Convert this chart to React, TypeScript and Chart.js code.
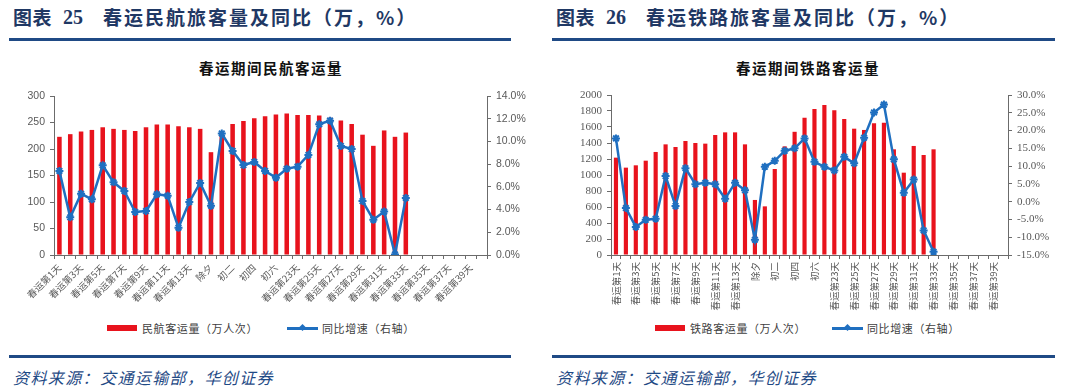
import React, { useEffect, useRef } from 'react';
import { Chart, registerables } from 'chart.js';

Chart.register(...registerables);

const categories = [
  '春运第1天', '春运第2天', '春运第3天', '春运第4天', '春运第5天', '春运第6天', '春运第7天', '春运第8天',
  '春运第9天', '春运第10天', '春运第11天', '春运第12天', '春运第13天', '春运第14天', '除夕', '初一',
  '初二', '初三', '初四', '初五', '初六', '初七', '春运第23天', '春运第24天', '春运第25天', '春运第26天',
  '春运第27天', '春运第28天', '春运第29天', '春运第30天', '春运第31天', '春运第32天', '春运第33天',
  '春运第34天', '春运第35天', '春运第36天', '春运第37天', '春运第38天', '春运第39天', '春运第40天',
];

const airVolume = [223, 228, 233, 236, 241, 238, 236, 234, 241, 246, 246, 243, 241, 238, 194, 229, 247, 253, 258, 262, 265, 267, 264, 264, 263, 259, 254, 247, 227, 206, 235, 223, 231];
const airYoY = [7.4, 3.32, 5.4, 4.9, 7.9, 6.4, 5.64, 3.79, 3.87, 5.34, 5.22, 2.41, 4.67, 6.34, 4.34, 10.7, 9.16, 7.92, 8.19, 7.4, 6.81, 7.6, 7.78, 8.81, 11.51, 11.83, 9.6, 9.33, 4.75, 3.11, 3.82, 0.05, 5.02];

const railVolume = [1217, 1092, 1121, 1179, 1288, 1383, 1350, 1425, 1400, 1392, 1500, 1533, 1533, 1383, 688, 608, 1075, 1358, 1540, 1717, 1825, 1875, 1808, 1700, 1579, 1563, 1646, 1654, 1321, 1029, 1363, 1250, 1321];
const railYoY = [17.8, -1.8, -7.1, -5.1, -4.8, 7.2, -1.2, 9.4, 4.9, 5.3, 4.9, 0.8, 5.3, 3.2, -10.7, 9.8, 11.5, 14.3, 15.0, 17.8, 11.2, 9.8, 8.8, 12.6, 10.8, 18.0, 25.1, 27.3, 11.9, 2.5, 6.2, -8.1, -14.1];

const airVolumeAxis = [0, 300, 50];
const airYoYAxis = [0, 14, 2];
const railVolumeAxis = [0, 2000, 200];
const railYoYAxis = [-15, 30, 5];

const RED = '#E8131D';
const BLUE = '#1F6FC0';
const NAVY = '#1F3864';
const AXIS = '#6b6b6b';
const TICK = '#595959';
const CJK = '"Noto Sans CJK SC", "Noto Sans", sans-serif';

type ChartSpec = {
  volume: number[];
  yoy: number[];
  volumeLabel: string;
  leftAxis: number[];
  rightAxis: number[];
  rotation: number;
  leftW: number;
  rightW: number;
  topPad: number;
  xHeight: number;
  numFont: string;
  numSize: number;
};

function buildConfig(s: ChartSpec): any {
  return {
    type: 'bar',
    data: {
      labels: categories,
      datasets: [
        {
          type: 'line',
          label: '同比增速（右轴）',
          data: s.yoy,
          yAxisID: 'y1',
          borderColor: BLUE,
          backgroundColor: BLUE,
          borderWidth: 2.5,
          pointStyle: 'star',
          pointRadius: 4,
          pointBorderWidth: 2,
          pointBackgroundColor: BLUE,
          pointBorderColor: BLUE,
          tension: 0,
          order: 0,
        },
        {
          type: 'bar',
          label: s.volumeLabel,
          data: s.volume,
          yAxisID: 'y',
          backgroundColor: RED,
          barPercentage: 0.42,
          categoryPercentage: 1,
          order: 1,
        },
      ],
    },
    options: {
      responsive: false,
      maintainAspectRatio: false,
      animation: false,
      layout: { padding: { top: s.topPad, left: 0, right: 0, bottom: 0 } },
      plugins: { legend: { display: false }, tooltip: { enabled: false }, title: { display: false } },
      scales: {
        x: {
          type: 'category',
          offset: true,
          grid: { offset: true, drawOnChartArea: false, drawTicks: true, tickLength: 4, color: AXIS },
          border: { color: AXIS, width: 1 },
          ticks: {
            autoSkip: false,
            minRotation: s.rotation,
            maxRotation: s.rotation,
            padding: 3,
            color: TICK,
            font: { family: CJK, size: 9.5 },
            callback: (_v: any, i: number) => (i % 2 === 0 ? categories[i] : ''),
          },
          afterFit: (sc: any) => { sc.height = s.xHeight; },
        },
        y: {
          position: 'left',
          min: s.leftAxis[0],
          max: s.leftAxis[1],
          grid: { drawOnChartArea: false, drawTicks: true, tickLength: 4, color: AXIS },
          border: { color: AXIS, width: 1 },
          ticks: {
            stepSize: s.leftAxis[2],
            autoSkip: false,
            padding: 5,
            color: TICK,
            font: { family: s.numFont, size: s.numSize },
            callback: (v: any) => String(v),
          },
          afterFit: (sc: any) => { sc.width = s.leftW; },
        },
        y1: {
          position: 'right',
          min: s.rightAxis[0],
          max: s.rightAxis[1],
          grid: { drawOnChartArea: false, drawTicks: true, tickLength: 4, color: AXIS },
          border: { color: AXIS, width: 1 },
          ticks: {
            stepSize: s.rightAxis[2],
            autoSkip: false,
            padding: 5,
            color: TICK,
            font: { family: s.numFont, size: s.numSize },
            callback: (v: any) => Number(v).toFixed(1) + '%',
          },
          afterFit: (sc: any) => { sc.width = s.rightW; },
        },
      },
    },
  };
}

function ChartCanvas({ spec, left, top, width, height }: { spec: ChartSpec; left: number; top: number; width: number; height: number }) {
  const ref = useRef<HTMLCanvasElement | null>(null);
  useEffect(() => {
    if (!ref.current) return;
    const chart = new Chart(ref.current, buildConfig(spec));
    return () => chart.destroy();
  }, []);
  return (
    <canvas
      ref={ref}
      width={width}
      height={height}
      style={{ position: 'absolute', left, top, width, height }}
    />
  );
}

function Panel({
  x, num, title, chartTitle, chartCenter, lineEnd, spec, canvasLeft, canvasTop, canvasH,
  legendRed, legendBlue, volumeLabel,
}: any) {
  const titleStyle: React.CSSProperties = {
    position: 'absolute', top: 5, fontFamily: CJK, fontWeight: 700, fontSize: 19,
    color: NAVY, whiteSpace: 'pre', lineHeight: '24px',
  };
  return (
    <>
      <div style={{ ...titleStyle, left: x + 4, letterSpacing: 0.5 }}>图表</div>
      <div style={{ ...titleStyle, left: x + 54, fontFamily: '"Liberation Serif", serif', fontSize: 20 }}>{num}</div>
      <div style={{ ...titleStyle, left: x + 94, letterSpacing: 2 }}>{title}</div>
      <div style={{ position: 'absolute', left: x, top: 38, width: lineEnd - x, height: 3, background: '#1F4A85' }} />
      <div
        style={{
          position: 'absolute', left: chartCenter - 120, width: 240, top: 58, textAlign: 'center',
          fontFamily: CJK, fontWeight: 700, fontSize: 14.5, letterSpacing: 1.5, color: '#111', lineHeight: '20px',
        }}
      >
        {chartTitle}
      </div>
      <ChartCanvas spec={spec} left={canvasLeft} top={canvasTop} width={540} height={canvasH} />
      <div style={{ position: 'absolute', left: legendRed, top: 325, width: 30, height: 6, background: RED }} />
      <div style={{ position: 'absolute', left: legendRed + 35, top: 320, fontFamily: CJK, fontSize: 11, letterSpacing: 0.6, color: '#404040', lineHeight: '16px', whiteSpace: 'pre' }}>
        {volumeLabel}
      </div>
      <div style={{ position: 'absolute', left: legendBlue, top: 327, width: 31, height: 2.5, background: BLUE }} />
      <div style={{ position: 'absolute', left: legendBlue + 13, top: 325, width: 5, height: 5, background: BLUE, transform: 'rotate(45deg)' }} />
      <div style={{ position: 'absolute', left: legendBlue + 35, top: 320, fontFamily: CJK, fontSize: 11, letterSpacing: 0.6, color: '#404040', lineHeight: '16px', whiteSpace: 'pre' }}>
        同比增速（右轴）
      </div>
      <div style={{ position: 'absolute', left: x, top: 355, width: lineEnd - x, height: 3, background: '#1F4A85' }} />
      <div
        style={{
          position: 'absolute', left: x + 4, top: 366, fontFamily: CJK, fontSize: 16, fontStyle: 'italic',
          letterSpacing: 1.4, color: '#1F4A85', lineHeight: '22px', whiteSpace: 'pre',
        }}
      >
        资料来源：交通运输部，华创证券
      </div>
    </>
  );
}

export default function App() {
  const airSpec: ChartSpec = {
    volume: airVolume, yoy: airYoY, volumeLabel: '民航客运量（万人次）',
    leftAxis: airVolumeAxis, rightAxis: airYoYAxis, rotation: 45,
    leftW: 54, rightW: 53, topPad: 16, xHeight: 55,
    numFont: '"Liberation Sans", Arial, sans-serif', numSize: 10.5,
  };
  const railSpec: ChartSpec = {
    volume: railVolume, yoy: railYoY, volumeLabel: '铁路客运量（万人次）',
    leftAxis: railVolumeAxis, rightAxis: railYoYAxis, rotation: 90,
    leftW: 71, rightW: 72, topPad: 15, xHeight: 60,
    numFont: '"Liberation Serif", serif', numSize: 11,
  };
  return (
    <div style={{ position: 'fixed', left: 0, top: 0, width: 1080, height: 390, background: '#fff', overflow: 'hidden' }}>
      <Panel
        x={9} num="25" title="春运民航旅客量及同比（万，%）" chartTitle="春运期间民航客运量"
        chartCenter={271} lineEnd={511} spec={airSpec} canvasLeft={0} canvasTop={80} canvasH={230}
        legendRed={107} legendBlue={287} volumeLabel="民航客运量（万人次）"
      />
      <Panel
        x={552} num="26" title="春运铁路旅客量及同比（万，%）" chartTitle="春运期间铁路客运量"
        chartCenter={808} lineEnd={1055} spec={railSpec} canvasLeft={540} canvasTop={80} canvasH={235}
        legendRed={655} legendBlue={832} volumeLabel="铁路客运量（万人次）"
      />
    </div>
  );
}
